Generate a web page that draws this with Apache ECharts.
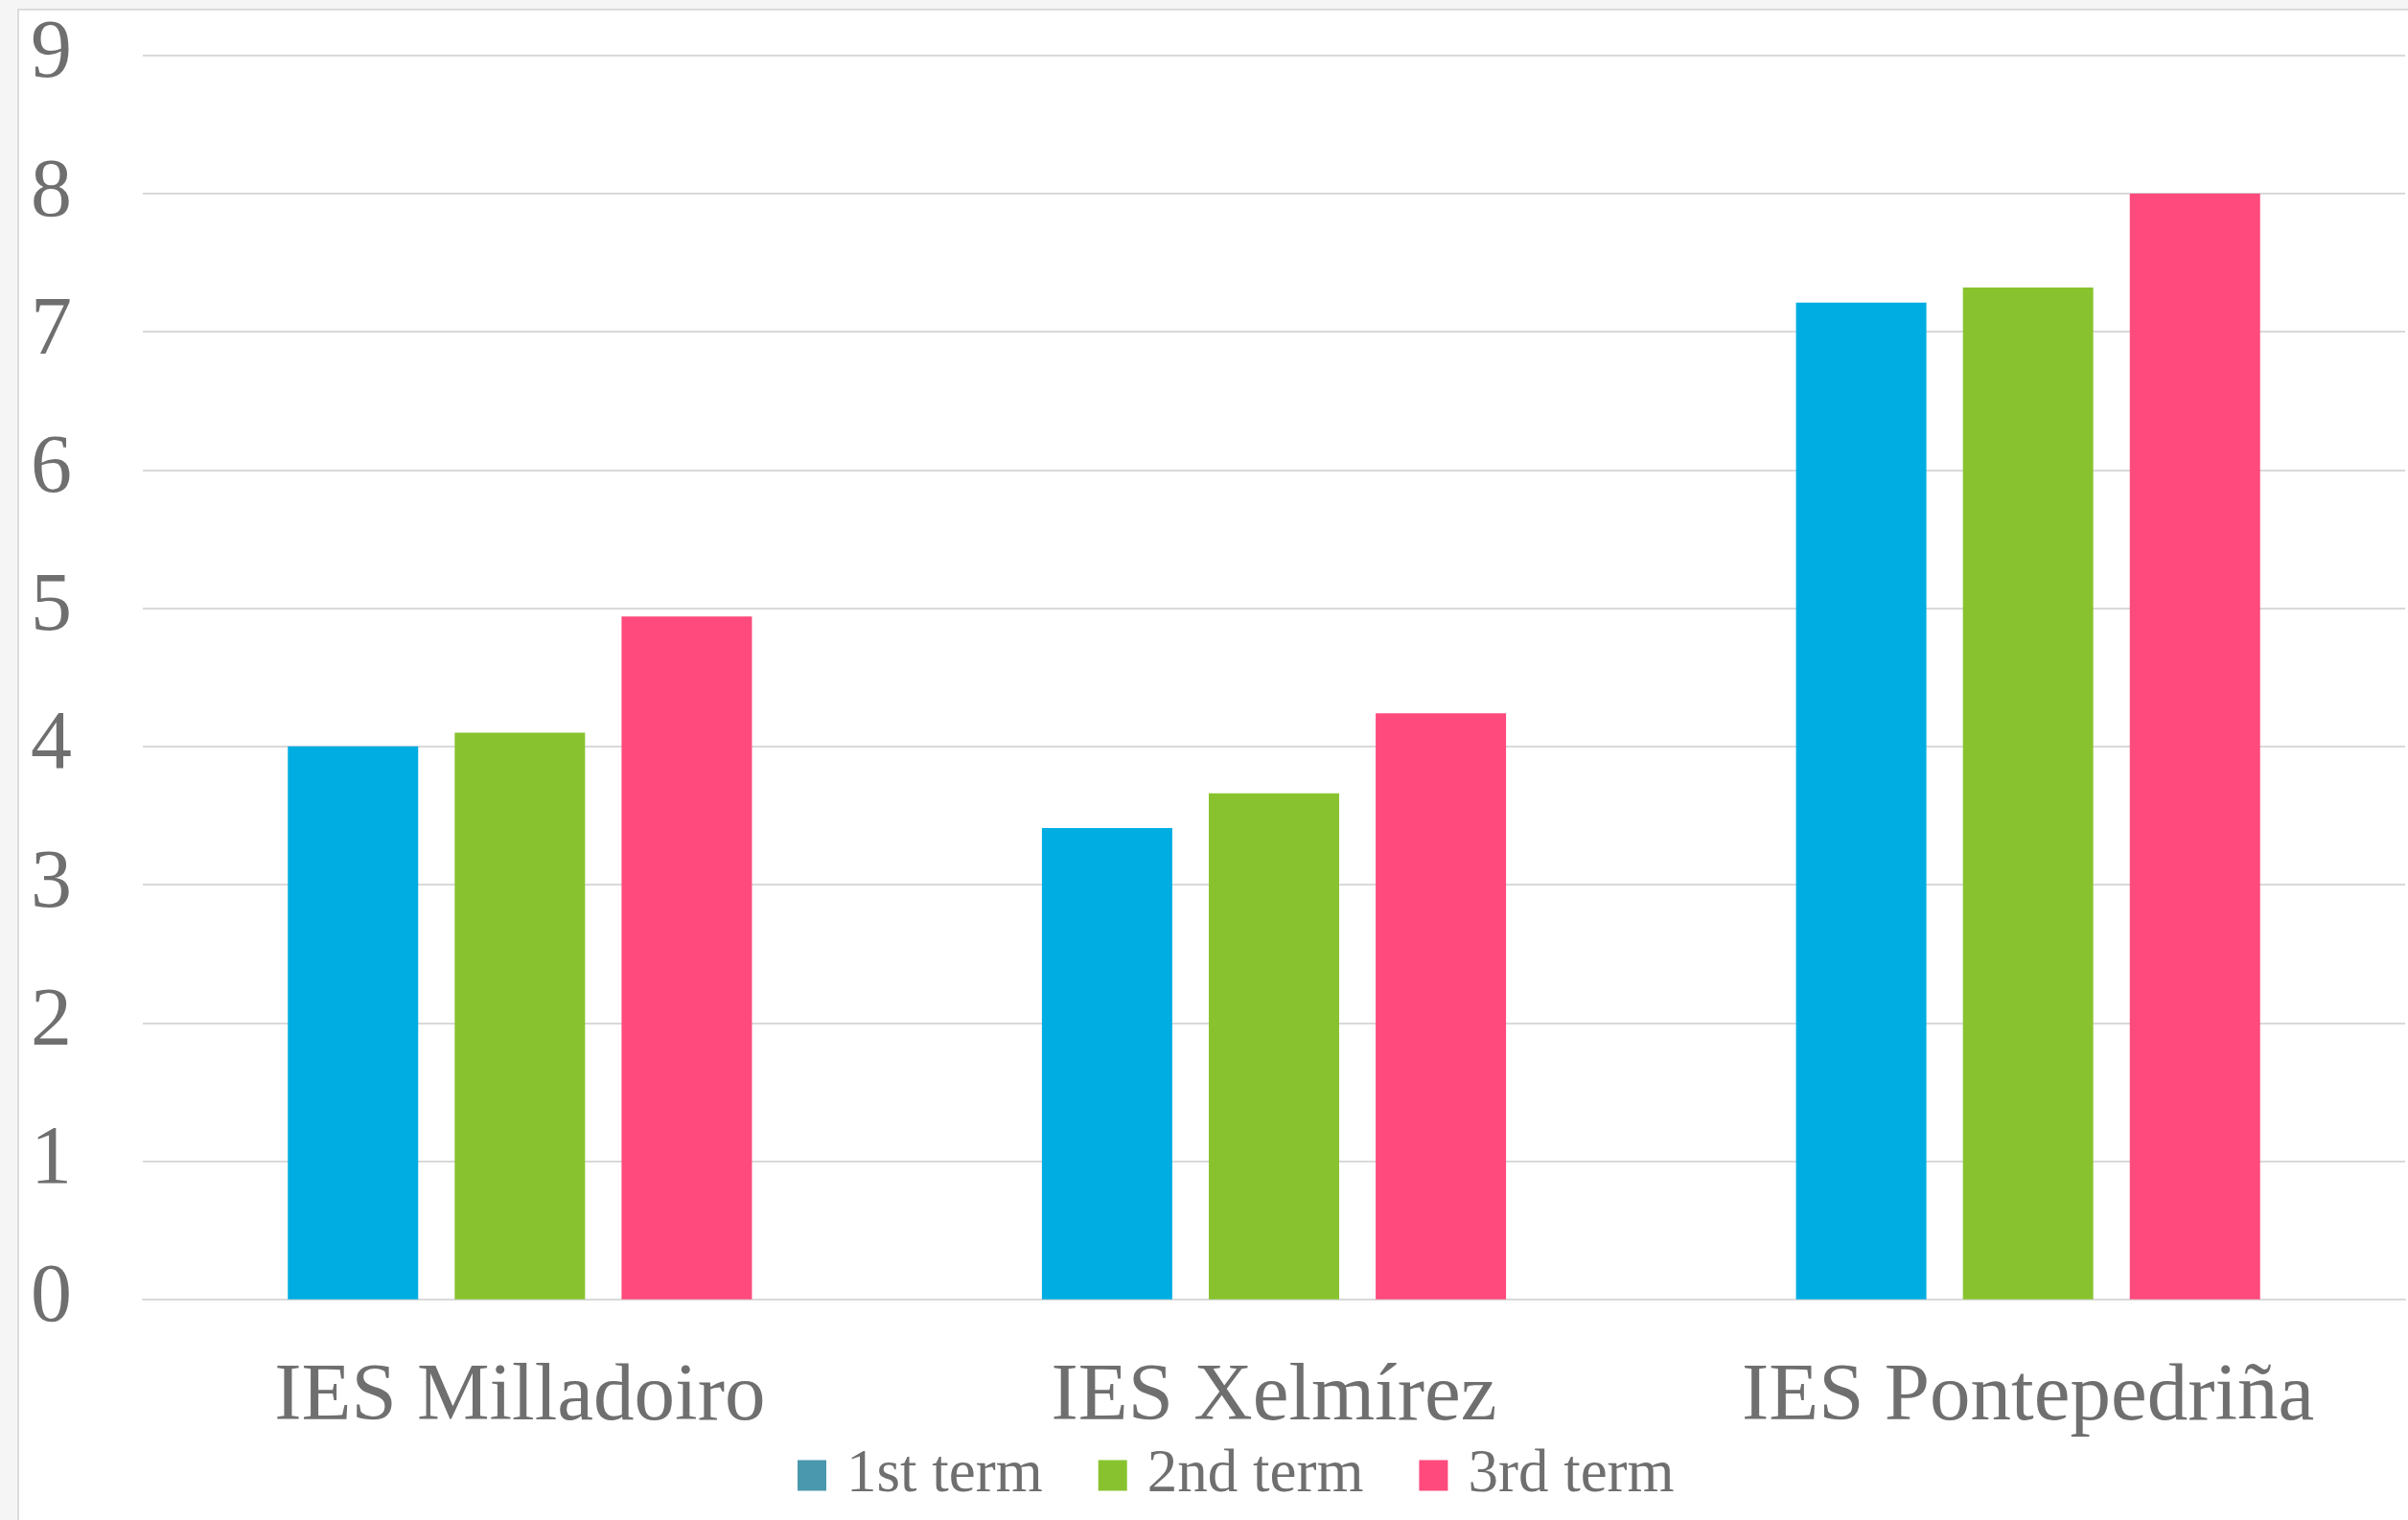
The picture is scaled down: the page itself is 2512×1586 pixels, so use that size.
<!DOCTYPE html>
<html>
<head>
<meta charset="utf-8">
<script src="https://cdn.jsdelivr.net/npm/echarts@6/dist/echarts.min.js"></script>
<style>
html, body { margin: 0; padding: 0; background: #f5f5f5; width: 2512px; height: 1586px; overflow: hidden; }
#chart { position: absolute; left: 18px; top: 9px; width: 2494px; height: 1577px; background: #ffffff; border-left: 2px solid #dcdcdc; border-top: 2px solid #dcdcdc; }
</style>
</head>
<body>
<div id="chart"></div>
<script>
const categories = ['IES Milladoiro', 'IES Xelmírez', 'IES Pontepedriña'];
const seriesNames = ['1st term', '2nd term', '3rd term'];
const term1 = [4.0, 3.41, 7.21];
const term2 = [4.1, 3.66, 7.32];
const term3 = [4.94, 4.24, 8.0];
const yTicks = [0, 1, 2, 3, 4, 5, 6, 7, 8, 9];

const barColors = ['#00ade2', '#88c32f', '#ff4a7d'];
const legendColors = ['#4a98ad', '#88c32f', '#ff4a7d'];
const font = '"Liberation Serif", "Times New Roman", serif';
const textColor = '#6f6f6f';

const chart = echarts.init(document.getElementById('chart'), null, { renderer: 'canvas' });
const values = [term1, term2, term3];
chart.setOption({
  animation: false,
  grid: { left: 129, right: 5, top: 46.7, height: 1298, containLabel: false },
  legend: {
    left: 812, top: 1497, padding: 0, itemGap: 58,
    itemWidth: 30, itemHeight: 32, icon: 'rect',
    textStyle: { fontFamily: font, fontSize: 63, color: textColor, padding: [0, 0, 0, 16] },
    data: seriesNames.map((n, i) => ({ name: n, itemStyle: { color: legendColors[i] } }))
  },
  xAxis: {
    type: 'category', data: categories,
    axisLine: { show: true, lineStyle: { color: '#d9d9d9', width: 2 } },
    axisTick: { show: false },
    axisLabel: { fontFamily: font, fontSize: 85, color: textColor, margin: 60 }
  },
  yAxis: {
    type: 'value', min: yTicks[0], max: yTicks[yTicks.length - 1], interval: 1,
    axisLine: { show: false }, axisTick: { show: false },
    splitLine: { lineStyle: { color: '#d9d9d9', width: 2 } },
    axisLabel: { fontFamily: font, fontSize: 86, color: textColor, margin: 74, padding: [6, 0, 0, 0] }
  },
  series: seriesNames.map((n, i) => ({
    name: n, type: 'bar', data: values[i], barWidth: 136, barGap: '28%',
    itemStyle: { color: barColors[i] }
  }))
});
</script>
</body>
</html>
